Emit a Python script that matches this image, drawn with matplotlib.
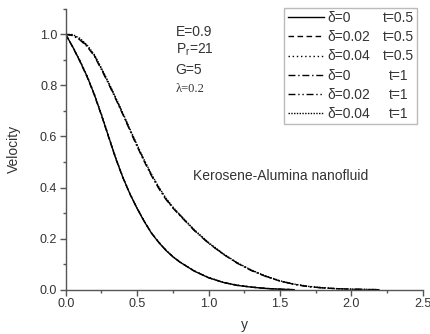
import matplotlib
matplotlib.use("Agg")
import matplotlib.pyplot as plt
from matplotlib.ticker import MultipleLocator

plt.rcParams['font.family'] = ['Liberation Sans', 'DejaVu Sans']
plt.rcParams['mathtext.fontset'] = 'custom'
plt.rcParams['mathtext.rm'] = 'Liberation Sans'
plt.rcParams['mathtext.it'] = 'Liberation Sans:italic'

# data
y_t05 = [0.0, 0.05, 0.1, 0.15, 0.2, 0.25, 0.3, 0.35, 0.4, 0.45, 0.5, 0.55, 0.6, 0.65, 0.7, 0.75, 0.8,
         0.9, 1.0, 1.1, 1.2, 1.3, 1.4, 1.5, 1.6]
v_t05_d0 = [1.0, 0.95, 0.895, 0.835, 0.765, 0.685, 0.6, 0.515, 0.44, 0.375, 0.318, 0.267, 0.222, 0.186,
            0.155, 0.129, 0.108, 0.073, 0.047, 0.029, 0.017, 0.010, 0.005, 0.002, 0.0]
v_t05_d002 = [1.0, 0.949, 0.893, 0.833, 0.763, 0.683, 0.598, 0.514, 0.439, 0.374, 0.319, 0.268, 0.222, 0.187,
              0.156, 0.130, 0.108, 0.073, 0.047, 0.029, 0.017, 0.010, 0.005, 0.002, 0.0]
v_t05_d004 = [1.0, 0.951, 0.897, 0.837, 0.767, 0.688, 0.602, 0.518, 0.442, 0.376, 0.320, 0.269, 0.223, 0.187,
              0.156, 0.130, 0.109, 0.074, 0.048, 0.030, 0.018, 0.011, 0.005, 0.002, 0.0]

y_t1 = [0.0, 0.05, 0.1, 0.15, 0.2, 0.25, 0.3, 0.35, 0.4, 0.45, 0.5, 0.55, 0.6, 0.65, 0.7, 0.75, 0.8,
        0.9, 1.0, 1.1, 1.2, 1.3, 1.4, 1.5, 1.6, 1.7, 1.8, 1.9, 2.0, 2.1, 2.2]
v_t1_d0 = [1.0, 0.995, 0.978, 0.952, 0.915, 0.862, 0.806, 0.747, 0.686, 0.623, 0.561, 0.502, 0.447, 0.398,
           0.355, 0.32, 0.29, 0.232, 0.182, 0.14, 0.104, 0.075, 0.052, 0.034, 0.021, 0.012, 0.007,
           0.004, 0.002, 0.001, 0.0]
v_t1_d002 = [1.0, 0.997, 0.981, 0.955, 0.918, 0.865, 0.809, 0.750, 0.689, 0.626, 0.564, 0.505, 0.450, 0.401,
             0.357, 0.322, 0.292, 0.233, 0.183, 0.141, 0.105, 0.076, 0.053, 0.034, 0.021, 0.012, 0.007,
             0.004, 0.002, 0.001, 0.0]
v_t1_d004 = [1.0, 0.999, 0.984, 0.958, 0.921, 0.868, 0.812, 0.753, 0.692, 0.629, 0.567, 0.508, 0.453, 0.404,
             0.360, 0.324, 0.294, 0.235, 0.185, 0.142, 0.106, 0.077, 0.054, 0.035, 0.022, 0.013, 0.008,
             0.004, 0.002, 0.001, 0.0]

labels_delta = ['δ=0', 'δ=0.02', 'δ=0.04', 'δ=0', 'δ=0.02', 'δ=0.04']
labels_t = ['t=0.5', 't=0.5', 't=0.5', 't=1', 't=1', 't=1']

W, H = 430, 334
fig = plt.figure(figsize=(W / 100, H / 100), dpi=100)
ax = fig.add_axes([65.7 / W, 1 - 289.7 / H, (422.7 - 65.7) / W, (289.7 - 8.8) / H])

lw = 1.0
c = 'black'
h1, = ax.plot(y_t05, v_t05_d0, color=c, lw=lw, ls='-')
h2, = ax.plot(y_t05, v_t05_d002, color=c, lw=lw, ls=(0, (4, 2.5)))
h3, = ax.plot(y_t05, v_t05_d004, color=c, lw=lw, ls=(0, (1, 2)))
h4, = ax.plot(y_t1, v_t1_d0, color=c, lw=lw, ls=(0, (5, 2, 1, 2)))
h5, = ax.plot(y_t1, v_t1_d002, color=c, lw=lw, ls=(0, (5, 2, 1, 2, 1, 2)))
h6, = ax.plot(y_t1, v_t1_d004, color=c, lw=lw, ls=(0, (1, 1)))

ax.set_xlim(0, 2.5)
ax.set_ylim(0, 1.1)
ax.xaxis.set_major_locator(MultipleLocator(0.5))
ax.xaxis.set_minor_locator(MultipleLocator(0.25))
ax.yaxis.set_minor_locator(MultipleLocator(0.1))
ax.set_yticks([0.0, 0.2, 0.4, 0.6, 0.8, 1.0])

gray = '#555555'
txt = '#333333'
for s in ['top', 'right']:
    ax.spines[s].set_visible(False)
for s in ['left', 'bottom']:
    ax.spines[s].set_color(gray)
    ax.spines[s].set_linewidth(1.0)
ax.tick_params(which='major', direction='out', length=4, width=1, color=gray, labelsize=9, labelcolor=txt, pad=2)
ax.tick_params(which='minor', direction='out', length=2.5, width=1, color=gray)

ax.set_xlabel('y', fontsize=10, color=txt, labelpad=6)
ax.set_ylabel('Velocity', fontsize=10, color=txt, labelpad=14)

leg = fig.legend([h1, h2, h3, h4, h5, h6], labels_delta,
                 loc='upper left', bbox_to_anchor=(284.3 / W, 1 - 11 / H, (417 - 284.3) / W, 0.01),
                 mode='expand', fontsize=10, frameon=True, fancybox=False,
                 edgecolor='#aaaaaa', handlelength=2.6, handletextpad=0.25,
                 labelspacing=0.37, borderpad=0.25, borderaxespad=0)
leg.get_frame().set_linewidth(1.0)
for t in leg.get_texts():
    t.set_color(txt)

fig.canvas.draw()
r = fig.canvas.get_renderer()
inv = fig.transFigure.inverted()
for t, lab in zip(leg.get_texts(), labels_t):
    bb = t.get_window_extent(r)
    yc = (bb.y0 + bb.y1) / 2
    fig.text(398.5 / W, inv.transform((0, yc))[1], lab, ha='center', va='center',
             fontsize=10, color=txt, zorder=10)

fig.text(175.5 / W, 1 - 32 / H, 'E=0.9', fontsize=10, color=txt, va='center')
fig.text(175.5 / W, 1 - 50 / H, r'P$_\mathrm{r}$=21', fontsize=10, color=txt, va='center')
fig.text(175.5 / W, 1 - 70 / H, 'G=5', fontsize=10, color=txt, va='center')
fig.text(175.5 / W, 1 - 89 / H, 'λ=0.2', fontsize=9, color=txt, va='center', family='Liberation Serif')
fig.text(193 / W, 1 - 176 / H, 'Kerosene-Alumina nanofluid', fontsize=10, color=txt, va='center')

fig.savefig('out.png', dpi=100)
